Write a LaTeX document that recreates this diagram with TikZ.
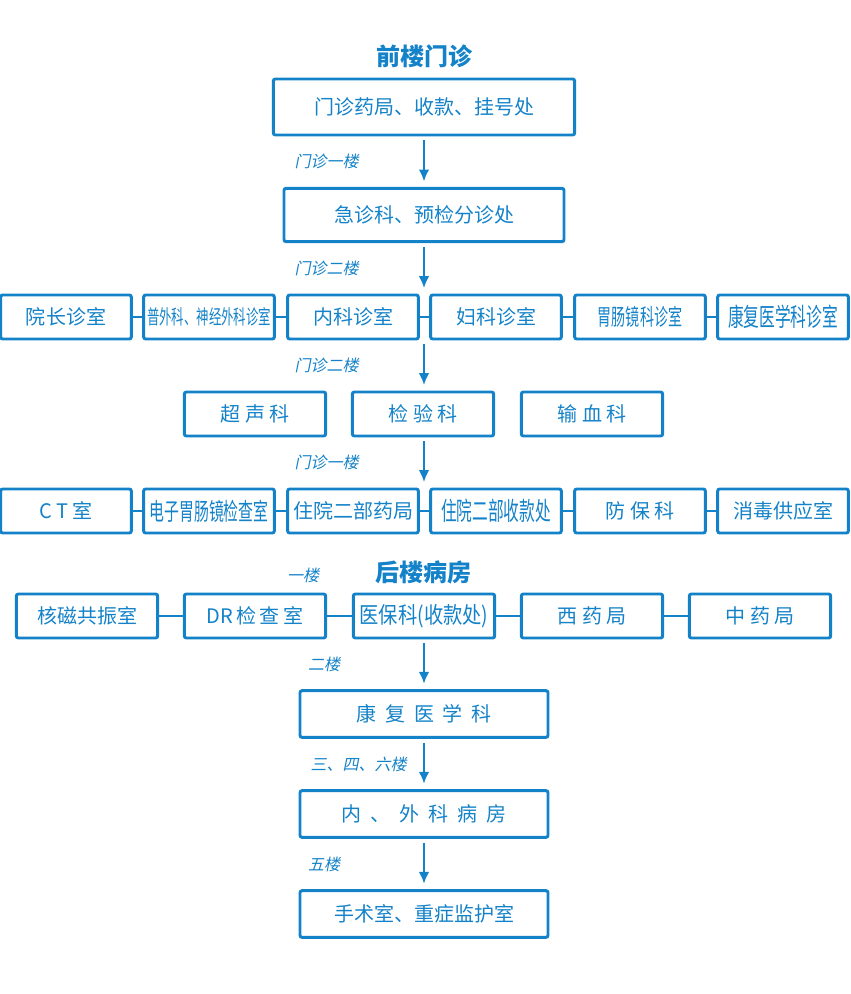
\documentclass[tikz,border=0pt]{standalone}
\usepackage{fontspec}
\setmainfont{Noto Sans CJK SC}
\newfontfamily\slantfont[FakeSlant=0.2]{Noto Sans CJK SC}
\usetikzlibrary{arrows.meta, positioning}
\definecolor{hospblue}{RGB}{20,130,200}
\newcommand{\narrow}[1]{\scalebox{0.62}[1]{#1}}

\begin{document}
\begin{tikzpicture}[x=0.75pt, y=-0.75pt,
    every node/.style={text=hospblue},
    room/.style={draw=hospblue, line width=2.2pt, rounded corners=1.5pt,
        minimum width=98pt, minimum height=33pt, inner sep=0pt, font=\fontsize{15}{15}\selectfont},
    wideroom/.style={room, minimum width=186pt, minimum height=35pt},
    title/.style={font=\fontsize{18}{18}\selectfont\bfseries},
    floor/.style={font=\fontsize{12}{12}\slantfont},
    flow/.style={draw=hospblue, line width=1.8pt, -{Latex[length=9pt,width=8pt]}, shorten >=4pt, shorten <=3pt},
    link/.style={draw=hospblue, line width=1.2pt}]
    \useasboundingbox (0,0) rectangle (850,994);

    % front building
    \node[title] (front) at (424,56) {前楼门诊};
    \node[room, minimum width=226pt, minimum height=42pt] (ghc) at (424,107) {门诊药局、收款、挂号处};
    \node[room, minimum width=210pt, minimum height=40pt] (jz) at (424,215) {急诊科、预检分诊处};

    % first row of rooms
    \node[room] (yz) at (66,317) {院长诊室};
    \node[room] (pw) at (209,317) {\narrow{普外科、神经外科诊室}};
    \node[room] (nk) at (353,317) {内科诊室};
    \node[room] (fk) at (496,317) {妇科诊室};
    \node[room] (wc) at (640,317) {\narrow{\fontsize{17}{17}\selectfont 胃肠镜科诊室}};
    \node[room] (kf) at (783,317) {\narrow{\fontsize{19}{19}\selectfont 康复医学科诊室}};

    % labs
    \node[room, minimum width=106pt] (cs) at (255,414) {超\ 声\ 科};
    \node[room, minimum width=106pt] (jy) at (423,414) {检\ 验\ 科};
    \node[room, minimum width=106pt] (sx) at (592,414) {输\ 血\ 科};

    % second row of rooms
    \node[room] (ct) at (66,511) {C\ T\ 室};
    \node[room] (dz) at (209,511) {\narrow{\fontsize{18}{18}\selectfont 电子胃肠镜检查室}};
    \node[room] (yj) at (353,511) {住院二部药局};
    \node[room] (sk) at (496,511) {\narrow{\fontsize{19}{19}\selectfont 住院二部收款处}};
    \node[room] (fb) at (640,511) {防\ 保\ 科};
    \node[room] (xd) at (783,511) {消毒供应室};

    % back building
    \node[title] (back) at (423,572) {后楼病房};
    \node[floor] (f1) at (303,575) {一楼};
    \node[room, minimum width=106pt] (hc) at (87,616) {核磁共振室};
    \node[room, minimum width=106pt] (dr) at (255,616) {DR\,检\,查\,室};
    \node[room, minimum width=106pt] (yb) at (424,616) {\scalebox{0.85}[1]{\fontsize{17}{17}\selectfont 医保科(收款处)}};
    \node[room, minimum width=106pt] (xy) at (592,616) {西\ 药\ 局};
    \node[room, minimum width=106pt] (zy) at (760,616) {中\ 药\ 局};
    \node[wideroom] (kfx) at (424,714) {康\ \ 复\ \ 医\ \ 学\ \ 科};
    \node[wideroom] (bf) at (424,814) {内\ \ 、\ \ 外\ \ 科\ \ 病\ \ 房};
    \node[wideroom] (ss) at (424,914) {手术室、重症监护室};

    % short links inside rows
    \foreach \a/\b in {yz/pw, pw/nk, nk/fk, fk/wc, wc/kf,
                       ct/dz, dz/yj, yj/sk, sk/fb, fb/xd,
                       hc/dr, dr/yb, yb/xy, xy/zy}
        \draw[link] (\a.east) -- (\b.west);

    % flow between floors
    \draw[flow] (ghc.south) -- (jz.north) node[floor, midway, xshift=-73pt] {门诊一楼};
    \draw[flow] (jz.south) -- (jz.south |- nk.north) node[floor, midway, xshift=-73pt] {门诊二楼};
    \draw[flow] (jz.south |- nk.south) -- (jz.south |- jy.north) node[floor, midway, xshift=-73pt] {门诊二楼};
    \draw[flow] (jz.south |- jy.south) -- (jz.south |- yj.north) node[floor, midway, xshift=-73pt] {门诊一楼};
    \draw[flow] (yb.south) -- (kfx.north) node[floor, midway, xshift=-75pt] {二楼};
    \draw[flow] (kfx.south) -- (bf.north) node[floor, midway, xshift=-49pt] {三、四、六楼};
    \draw[flow] (bf.south) -- (ss.north) node[floor, midway, xshift=-75pt] {五楼};
\end{tikzpicture}
\end{document}
